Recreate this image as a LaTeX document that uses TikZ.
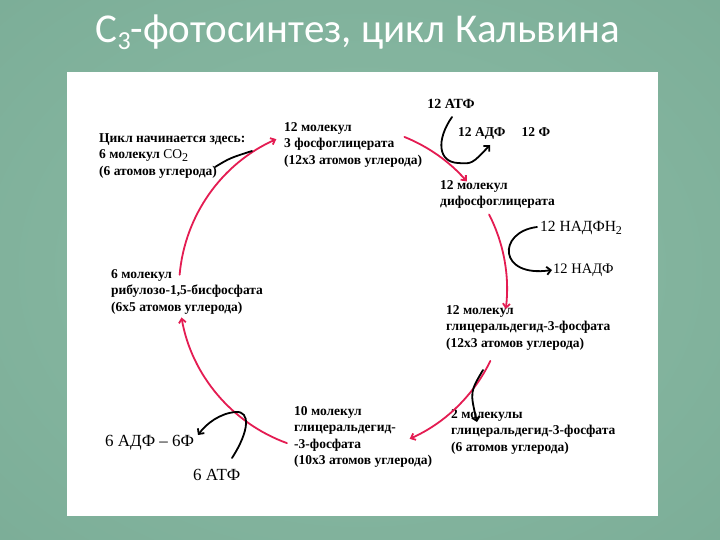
\documentclass[tikz,border=0pt]{standalone}
\usepackage{fontspec}
\setmainfont{Liberation Serif}
\newfontfamily\titlefont{Carlito}
\usetikzlibrary{arrows.meta,calc}
\definecolor{cyc}{RGB}{228,28,82}
\definecolor{bgin}{RGB}{140,188,166}
\definecolor{bgmid}{RGB}{122,172,150}
\definecolor{bgout}{RGB}{94,146,124}
\pgfdeclareradialshading{bgshade}{\pgfpoint{0bp}{0bp}}{color(0bp)=(bgin); color(40bp)=(bgmid); color(72bp)=(bgout)}
\newcommand{\lowsub}[1]{\raisebox{-0.45ex}{\fontsize{12}{12}\selectfont #1}}
\begin{document}
\begin{tikzpicture}[x=1pt,y=-1pt,
  lbl/.style={inner sep=0pt, anchor=north west, align=left, font=\fontsize{13.5}{16.5}\selectfont\bfseries},
  plainlbl/.style={inner sep=0pt, anchor=west, font=\fontsize{14.5}{16}\selectfont},
  cycarrow/.style={draw=cyc, line width=1.8pt, line cap=round, -{Straight Barb[length=4pt,width=7pt]}},
  blkarrow/.style={draw=black, line width=1.8pt, line cap=round, -{Straight Barb[length=4pt,width=8pt]}},
  blkline/.style={draw=black, line width=1.8pt, line cap=round}]
\useasboundingbox (0,0) rectangle (720,540);
\shade[shading=bgshade] (0,0) rectangle (720,540);
\fill[white] (67,72) rectangle (658,516);
\node[text=white, inner sep=0pt, font=\titlefont\fontsize{41}{42}\selectfont] (title) at (358,32)
  {C\raisebox{-0.35ex}{\fontsize{26}{26}\selectfont 3}-фотосинтез, цикл Кальвина};

% text nodes
\node[lbl] (start) at (99,133) {Цикл начинается здесь:\\6 молекул {\mdseries CO\lowsub{2}}\\(6 атомов углерода)};
\node[lbl] (pga) at (284,122) {12 молекул\\3 фосфоглицерата\\(12x3 атомов углерода)};
\node[lbl, anchor=center, font=\fontsize{14}{16}\selectfont\bfseries] (atp12) at (451,104) {12 АТФ};
\node[lbl, anchor=west, font=\fontsize{13.5}{16}\selectfont\bfseries] (adp12) at (458,133) {12 АДФ\hspace{1.2em}12 Ф};
\node[lbl] (dpga) at (440,180) {12 молекул\\дифосфоглицерата};
\node[plainlbl, font=\fontsize{15.5}{17}\selectfont] (nadph) at (540,228) {12 НАДФН\lowsub{2}};
\node[plainlbl] (nadp) at (553,270) {12 НАДФ};
\node[lbl] (g3p12) at (446,305) {12 молекул\\глицеральдегид-3-фосфата\\(12x3 атомов углерода)};
\node[lbl] (g3p2) at (451,409) {2 молекулы\\глицеральдегид-3-фосфата\\(6 атомов углерода)};
\node[lbl] (g3p10) at (294,406) {10 молекул\\глицеральдегид-\\-3-фосфата\\(10x3 атомов углерода)};
\node[plainlbl, font=\fontsize{17}{19}\selectfont] (adp6) at (105,443) {6 АДФ -- 6Ф};
\node[plainlbl, font=\fontsize{17}{19}\selectfont] (atp6) at (193,475) {6 АТФ};
\node[lbl] (rubp) at (111,269) {6 молекул\\рибулозо-1,5-бисфосфата\\(6x5 атомов углерода)};

% cycle arcs
\coordinate (c) at (343,289);
\path (c) ++(-175:164) coordinate (a1) (c) ++(-68:164) coordinate (b1)
      (c) ++(-27:164) coordinate (c1) (c) ++(26:164) coordinate (d1)
      (c) ++(110:164) coordinate (e1);
\draw[cycarrow] (a1) arc[start angle=-175, end angle=-114, radius=164];
\draw[cycarrow] (b1) arc[start angle=-68, end angle=-41, radius=164];
\draw[cycarrow] (c1) arc[start angle=-27, end angle=7, radius=164];
\draw[cycarrow] (d1) arc[start angle=26, end angle=66, radius=164];
\draw[cycarrow] (e1) arc[start angle=110, end angle=170, radius=164];

% side arrows
\coordinate (co2s) at (215,167);
\coordinate (co2e) at (252,151);
\draw[blkline] (co2s) .. controls (230,158) .. (co2e);

\coordinate (atps) at (452,117);
\coordinate (atpm) at (458,163);
\coordinate (atpe) at (490,145);
\draw[blkarrow] (atps) .. controls (436,140) and (438,162) .. (atpm) .. controls (472,164) .. (atpe);

\coordinate (nads) at (537,227);
\coordinate (nade) at (552,270);
\draw[blkarrow] (nads) .. controls (497,232) and (498,278) .. (nade);

\coordinate (brs) at (483,370);
\coordinate (bre) at (477,422);
\draw[blkarrow] (brs) .. controls (470,392) .. (bre);

\coordinate (bls) at (232,458);
\coordinate (blm) at (236,412);
\coordinate (ble) at (198,435);
\draw[blkarrow] (bls) .. controls (250,430) and (250,411) .. (blm) .. controls (220,413) and (206,424) .. (ble);
\end{tikzpicture}
\end{document}
